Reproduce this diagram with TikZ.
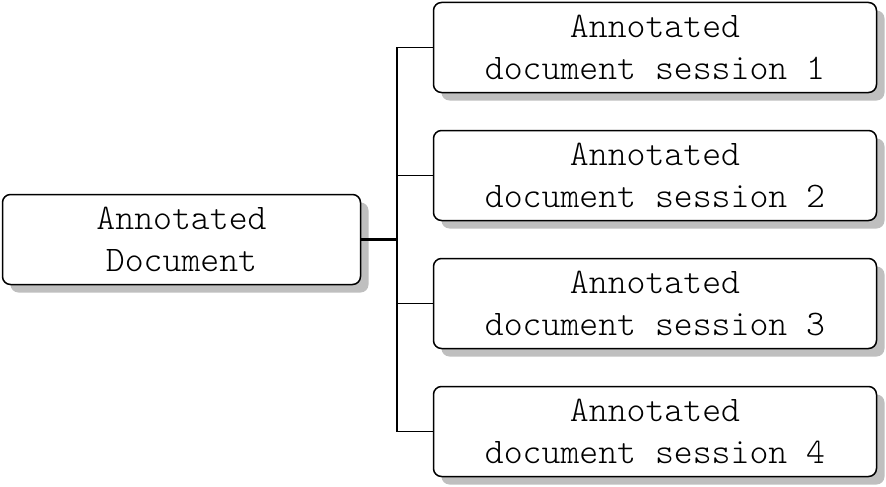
\documentclass[tikz,border=0pt]{standalone}
\usepackage{fontspec}
\newfontfamily\lightmono{Latin Modern Mono Light}
\usetikzlibrary{shadows}
\begin{document}
\begin{tikzpicture}[x=1pt,y=-1pt,
  box/.style={draw=black, line width=1.5pt, rounded corners=8pt, fill=white,
    align=center, inner sep=0pt, font=\lightmono\fontsize{36}{42}\selectfont,
    drop shadow={shadow xshift=8pt, shadow yshift=-8pt, fill=black!25, opacity=1}},
  conn/.style={line width=1.5pt}]
\useasboundingbox (0,0) rectangle (886,487);
\node[box, minimum width=358pt, minimum height=90pt] (L) at (181.5,239.5) {Annotated\\Document};
\node[box, minimum width=443pt, minimum height=90pt] (R1) at (655,47.5) {Annotated\\document session 1};
\node[box, minimum width=443pt, minimum height=90pt] (R2) at (655,175.5) {Annotated\\document session 2};
\node[box, minimum width=443pt, minimum height=90pt] (R3) at (655,303.5) {Annotated\\document session 3};
\node[box, minimum width=443pt, minimum height=90pt] (R4) at (655,431.5) {Annotated\\document session 4};
\coordinate (J) at (397,239.5);
\draw[line width=2.5pt] (L.east) -- (J);
\draw[conn] (R1.west) -| (J);
\draw[conn] (R4.west) -| (J);
\draw[conn] (R2.west) -- (R2.west -| J);
\draw[conn] (R3.west) -- (R3.west -| J);
\end{tikzpicture}
\end{document}
